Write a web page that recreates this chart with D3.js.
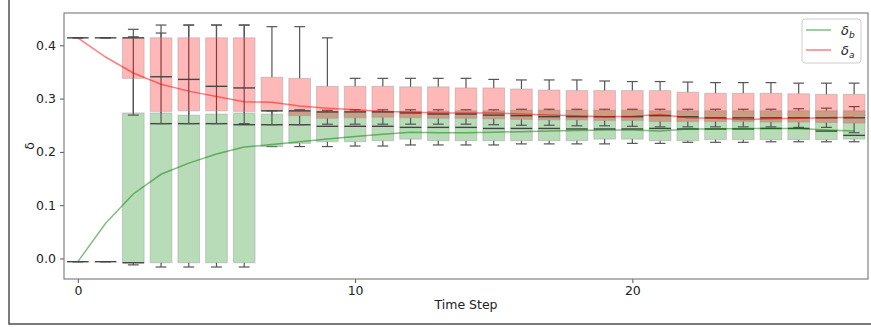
<!DOCTYPE html>
<html>
<head>
<meta charset="utf-8">
<script src="https://cdn.jsdelivr.net/npm/d3@7"></script>
<style>
  html, body { margin: 0; padding: 0; background: #fff; }
  svg { display: block; }
  text { font-family: "DejaVu Sans", sans-serif; fill: #222; }
</style>
</head>
<body>
<svg id="chart" width="871" height="327"></svg>
<script>
// Time steps 0..28
const steps = d3.range(0, 29);

// δ_a (red) box statistics per time step
const aLow  = [0.414,0.414,0.269,0.253,0.253,0.253,0.253,0.251,0.251,0.252,0.252,0.252,0.252,0.252,0.252,0.251,0.250,0.250,0.249,0.249,0.248,0.247,0.247,0.247,0.247,0.247,0.246,0.246,0.236];
const aQ1   = [0.414,0.414,0.338,0.276,0.277,0.277,0.276,0.277,0.268,0.263,0.264,0.265,0.264,0.263,0.263,0.262,0.261,0.260,0.260,0.259,0.259,0.257,0.257,0.257,0.257,0.256,0.256,0.255,0.254];
const aMed  = [0.414,0.414,0.414,0.341,0.336,0.323,0.320,0.277,0.277,0.275,0.275,0.275,0.273,0.271,0.271,0.269,0.268,0.266,0.266,0.266,0.266,0.268,0.266,0.264,0.264,0.264,0.264,0.264,0.264];
const aQ3   = [0.414,0.414,0.414,0.414,0.414,0.414,0.414,0.340,0.338,0.323,0.323,0.323,0.322,0.322,0.320,0.320,0.318,0.316,0.315,0.315,0.315,0.315,0.312,0.310,0.310,0.310,0.309,0.308,0.308];
const aHigh = [0.414,0.414,0.430,0.438,0.438,0.438,0.438,0.435,0.435,0.414,0.338,0.338,0.338,0.338,0.338,0.336,0.335,0.335,0.335,0.333,0.332,0.332,0.331,0.330,0.330,0.330,0.329,0.329,0.329];
const aMean = [0.414,0.378,0.348,0.327,0.314,0.304,0.294,0.293,0.286,0.282,0.279,0.276,0.275,0.273,0.273,0.273,0.271,0.269,0.268,0.266,0.267,0.270,0.264,0.263,0.261,0.262,0.263,0.264,0.265];

// δ_b (green) box statistics per time step
const bLow  = [-0.006,-0.006,-0.012,-0.016,-0.016,-0.016,-0.016,0.210,0.210,0.210,0.211,0.211,0.213,0.213,0.213,0.213,0.215,0.215,0.215,0.215,0.216,0.216,0.218,0.218,0.218,0.219,0.219,0.219,0.219];
const bQ1   = [-0.006,-0.006,-0.008,-0.008,-0.008,-0.008,-0.008,0.210,0.216,0.219,0.219,0.221,0.224,0.221,0.221,0.221,0.221,0.221,0.221,0.224,0.224,0.221,0.221,0.223,0.223,0.223,0.223,0.223,0.224];
const bMed  = [-0.006,-0.006,-0.008,0.253,0.253,0.253,0.251,0.251,0.251,0.248,0.248,0.248,0.246,0.246,0.246,0.244,0.244,0.244,0.243,0.243,0.243,0.244,0.243,0.243,0.243,0.244,0.244,0.239,0.231];
const bQ3   = [-0.006,-0.006,0.273,0.273,0.269,0.271,0.273,0.271,0.277,0.275,0.276,0.276,0.276,0.276,0.277,0.277,0.278,0.278,0.278,0.278,0.278,0.277,0.277,0.277,0.277,0.277,0.277,0.277,0.277];
const bHigh = [-0.006,-0.006,0.416,0.423,0.438,0.438,0.438,0.277,0.279,0.278,0.279,0.279,0.279,0.279,0.279,0.279,0.280,0.280,0.280,0.280,0.280,0.280,0.280,0.280,0.280,0.280,0.281,0.282,0.285];
const bMean = [-0.006,0.066,0.121,0.158,0.179,0.196,0.209,0.214,0.219,0.224,0.229,0.233,0.237,0.236,0.236,0.237,0.238,0.239,0.240,0.241,0.241,0.239,0.243,0.243,0.244,0.244,0.244,0.241,0.239];

const xTicks = [0, 10, 20];
const yTicks = [0.0, 0.1, 0.2, 0.3, 0.4];

const series = [
  { name: "b", color: "#008000", low: bLow, q1: bQ1, med: bMed, q3: bQ3, high: bHigh, mean: bMean },
  { name: "a", color: "#ff0000", low: aLow, q1: aQ1, med: aMed, q3: aQ3, high: aHigh, mean: aMean }
];

const svg = d3.select("#chart");
const m = { left: 64, right: 868, top: 13, bottom: 279 };

// outer figure frame
svg.append("rect")
  .attr("x", 9).attr("y", -10).attr("width", 900).attr("height", 334)
  .attr("fill", "none").attr("stroke", "#444").attr("stroke-width", 1.4);

const x = d3.scaleLinear().domain([-0.5, 28.5]).range([m.left, m.right]);
const y = d3.scaleLinear().domain([-0.0385, 0.4606]).range([m.bottom, m.top]);

const step = x(1) - x(0);
const boxW = step * 0.78;
const capW = boxW * 0.5;

const plot = svg.append("g");

// boxes
series.forEach(s => {
  const g = plot.append("g");
  steps.forEach(i => {
    const cx = x(i);
    // whiskers
    g.append("line").attr("x1", cx).attr("x2", cx)
      .attr("y1", y(s.q3[i])).attr("y2", y(s.high[i]))
      .attr("stroke", "#555").attr("stroke-width", 1.2);
    g.append("line").attr("x1", cx).attr("x2", cx)
      .attr("y1", y(s.q1[i])).attr("y2", y(s.low[i]))
      .attr("stroke", "#555").attr("stroke-width", 1.2);
    // caps
    [s.high[i], s.low[i]].forEach(v => {
      g.append("line").attr("x1", cx - capW / 2).attr("x2", cx + capW / 2)
        .attr("y1", y(v)).attr("y2", y(v))
        .attr("stroke", "#555").attr("stroke-width", 1.2);
    });
    // box
    g.append("rect")
      .attr("x", cx - boxW / 2).attr("width", boxW)
      .attr("y", y(s.q3[i])).attr("height", Math.max(0, y(s.q1[i]) - y(s.q3[i])))
      .attr("fill", s.color).attr("fill-opacity", 0.28)
      .attr("stroke", "#999").attr("stroke-opacity", 0.45).attr("stroke-width", 1);
    // median
    g.append("line").attr("x1", cx - boxW / 2).attr("x2", cx + boxW / 2)
      .attr("y1", y(s.med[i])).attr("y2", y(s.med[i]))
      .attr("stroke", "#444").attr("stroke-width", 1.4);
  });
});

// mean lines
const line = d3.line().x((d, i) => x(steps[i])).y(d => y(d));
series.forEach(s => {
  plot.append("path").datum(s.mean)
    .attr("d", line)
    .attr("fill", "none")
    .attr("stroke", s.color).attr("stroke-opacity", 0.5).attr("stroke-width", 1.5);
});

// axes
const xAxis = d3.axisBottom(x).tickValues(xTicks).tickFormat(d3.format("d")).tickSize(4).tickPadding(3);
const yAxis = d3.axisLeft(y).tickValues(yTicks).tickFormat(d3.format(".1f")).tickSize(4).tickPadding(4);

const gx = svg.append("g").attr("transform", `translate(0,${m.bottom})`).call(xAxis);
const gy = svg.append("g").attr("transform", `translate(${m.left},0)`).call(yAxis);
[gx, gy].forEach(g => {
  g.select(".domain").remove();
  g.selectAll(".tick line").attr("stroke", "#555");
  g.selectAll(".tick text").attr("font-size", 12.5).attr("fill", "#222")
    .style("font-family", "'DejaVu Sans', sans-serif");
});

// spines
svg.append("rect")
  .attr("x", m.left).attr("y", m.top).attr("width", m.right - m.left).attr("height", m.bottom - m.top)
  .attr("fill", "none").attr("stroke", "#777").attr("stroke-width", 1.1);

// axis labels
svg.append("text").attr("x", (m.left + m.right) / 2).attr("y", 309)
  .attr("text-anchor", "middle").attr("font-size", 12.5).text("Time Step");
svg.append("text")
  .attr("transform", `translate(34,${(m.top + m.bottom) / 2}) rotate(-90)`)
  .attr("text-anchor", "middle").attr("font-size", 12.5).text("δ");

// legend
const lg = svg.append("g").attr("transform", "translate(802,19)");
lg.append("rect").attr("width", 59).attr("height", 44).attr("rx", 3)
  .attr("fill", "#fff").attr("fill-opacity", 0.8)
  .attr("stroke", "#ccc").attr("stroke-width", 1);
const legendItems = [
  { color: "#008000", sub: "b", yy: 11 },
  { color: "#ff0000", sub: "a", yy: 31 }
];
legendItems.forEach(d => {
  lg.append("line").attr("x1", 4).attr("x2", 29).attr("y1", d.yy).attr("y2", d.yy)
    .attr("stroke", d.color).attr("stroke-opacity", 0.5).attr("stroke-width", 1.5);
  const t = lg.append("text").attr("x", 39).attr("y", d.yy + 5)
    .attr("font-size", 13).attr("font-style", "italic");
  t.append("tspan").text("δ");
  t.append("tspan").attr("font-size", 9).attr("dy", 3).text(d.sub);
});
</script>
</body>
</html>
